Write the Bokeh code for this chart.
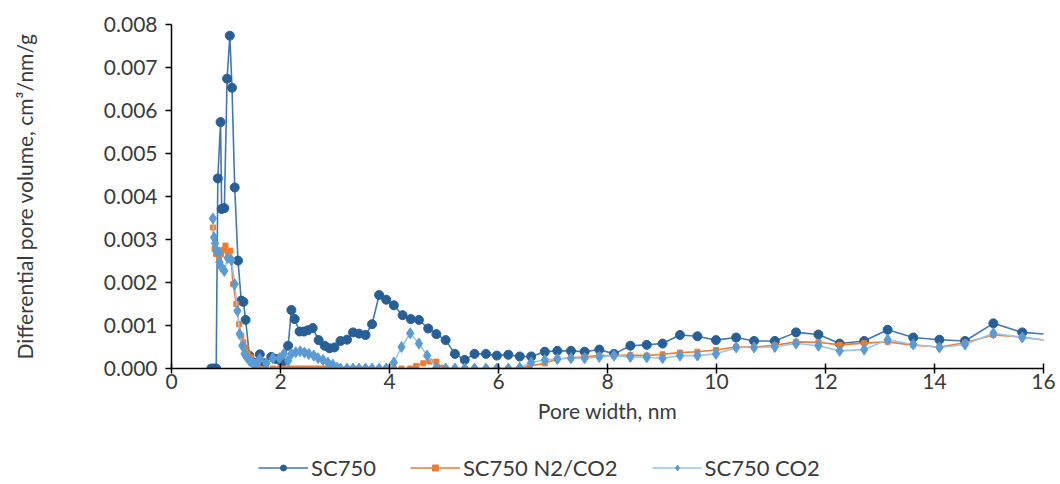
from bokeh.plotting import figure
from bokeh.layouts import column
from bokeh.models import Legend, LegendItem, Range1d, SingleIntervalTicker, NumeralTickFormatter
from bokeh.embed import file_html
from bokeh.resources import INLINE

# ---- data (pore width nm, differential pore volume cm3/nm/g) ----
sc750_x = [0.73, 0.77, 0.82, 0.85, 0.90, 0.92, 0.97, 1.02, 1.07, 1.11, 1.16, 1.22, 1.28, 1.32, 1.36,
           1.43, 1.49, 1.55, 1.62, 1.70, 1.83, 1.92, 2.03, 2.14, 2.20, 2.26, 2.35, 2.43, 2.50, 2.59,
           2.70, 2.81, 2.90, 2.99, 3.10, 3.22, 3.33, 3.44, 3.56, 3.68, 3.81, 3.94, 4.08, 4.24, 4.39,
           4.54, 4.71, 4.86, 5.03, 5.20, 5.38, 5.56, 5.77, 5.97, 6.18, 6.39, 6.60, 6.85, 7.08, 7.33,
           7.58, 7.85, 8.12, 8.42, 8.72, 9.01, 9.33, 9.65, 9.99, 10.36, 10.69, 11.07, 11.46, 11.87,
           12.26, 12.71, 13.14, 13.61, 14.09, 14.56, 15.08, 15.61, 16.15]
sc750_y = [0, 0, 0, 4.42, 5.73, 3.71, 3.73, 6.74, 7.74, 6.53, 4.21, 2.51, 1.58, 1.55, 1.13,
           0.30, 0.15, 0.10, 0.33, 0.12, 0.27, 0.22, 0.14, 0.53, 1.36, 1.15, 0.86, 0.86, 0.89, 0.94,
           0.66, 0.53, 0.47, 0.49, 0.64, 0.67, 0.84, 0.81, 0.78, 1.03, 1.71, 1.60, 1.47, 1.24, 1.15,
           1.13, 0.93, 0.80, 0.66, 0.34, 0.20, 0.34, 0.34, 0.30, 0.32, 0.28, 0.28, 0.39, 0.41, 0.41,
           0.39, 0.44, 0.34, 0.53, 0.55, 0.58, 0.78, 0.75, 0.66, 0.72, 0.64, 0.64, 0.84, 0.79,
           0.58, 0.64, 0.90, 0.72, 0.67, 0.64, 1.05, 0.84, 0.79]

n2co2_x = [0.76, 0.79, 0.82, 0.87, 0.91, 0.95, 0.99, 1.03, 1.08, 1.13, 1.19, 1.24, 1.28, 1.32, 1.36,
           1.40, 1.46, 1.52, 1.57, 1.62, 1.74, 1.86, 1.98, 2.06, 2.14, 2.20, 2.28, 2.36, 2.44, 2.52,
           2.61, 2.69, 2.78, 2.87, 2.96, 3.04, 3.10, 3.22, 3.33, 3.44, 3.56, 3.68, 3.81, 3.94, 4.08,
           4.22, 4.38, 4.49, 4.62, 4.74, 4.86, 4.95, 5.03, 5.20, 5.38, 5.56, 5.77, 5.97, 6.18, 6.39,
           6.57, 6.85, 7.08, 7.33, 7.58, 7.85, 8.12, 8.42, 8.72, 9.01, 9.33, 9.65, 9.99, 10.36, 10.69,
           11.07, 11.46, 11.87, 12.26, 12.71, 13.14, 13.61, 14.09, 14.56, 15.08, 15.61, 16.15]
n2co2_y = [3.28, 2.78, 2.66, 2.55, 2.66, 2.76, 2.86, 2.72, 2.74, 1.96, 1.50, 1.03, 0.76, 0.61, 0.49,
           0.34, 0.26, 0.15, 0.02, 0, 0, 0, 0, 0, 0, 0, 0, 0, 0, 0,
           0, 0, 0, 0, 0, 0, 0, 0, 0, 0, 0, 0, 0, 0, 0,
           0, 0, 0.06, 0.12, 0.16, 0.16, 0.02, 0, 0, 0, 0, 0, 0, 0, 0,
           0.06, 0.12, 0.22, 0.25, 0.27, 0.30, 0.30, 0.31, 0.30, 0.33, 0.37, 0.39, 0.43, 0.50, 0.50,
           0.54, 0.62, 0.61, 0.55, 0.59, 0.62, 0.54, 0.50, 0.60, 0.78, 0.73, 0.64]

co2_x = [0.76, 0.78, 0.80, 0.82, 0.87, 0.88, 0.92, 0.97, 1.03, 1.10, 1.16, 1.21, 1.25, 1.30, 1.34,
         1.38, 1.43, 1.49, 1.55, 1.62, 1.74, 1.86, 1.98, 2.06, 2.14, 2.20, 2.28, 2.36, 2.44, 2.52,
         2.61, 2.69, 2.78, 2.87, 2.96, 3.04, 3.10, 3.22, 3.33, 3.44, 3.56, 3.68, 3.81, 3.94, 4.08,
         4.22, 4.38, 4.54, 4.69, 4.86, 5.03, 5.20, 5.38, 5.56, 5.77, 5.97, 6.18, 6.39, 6.60, 6.85,
         7.08, 7.33, 7.58, 7.85, 8.12, 8.42, 8.72, 9.01, 9.33, 9.65, 9.99, 10.36, 10.69, 11.07, 11.46,
         11.87, 12.26, 12.71, 13.14, 13.61, 14.09, 14.56, 15.08, 15.61, 16.15]
co2_y = [3.49, 3.05, 2.91, 2.74, 2.70, 2.47, 2.35, 2.27, 2.57, 2.52, 1.96, 1.34, 0.80, 0.53, 0.34,
         0.26, 0.18, 0.12, 0.10, 0.22, 0.12, 0.24, 0.24, 0.34, 0.18, 0.34, 0.38, 0.40, 0.37, 0.34,
         0.30, 0.24, 0.20, 0.14, 0.09, 0.02, 0, 0, 0, 0, 0, 0, 0, 0, 0.14,
         0.50, 0.82, 0.58, 0.30, 0.02, 0, 0, 0, 0, 0, 0, 0, 0.02, 0.14, 0.20,
         0.22, 0.24, 0.24, 0.27, 0.30, 0.27, 0.26, 0.24, 0.30, 0.30, 0.34, 0.49, 0.49, 0.50, 0.58,
         0.53, 0.41, 0.44, 0.67, 0.56, 0.49, 0.56, 0.82, 0.72, 0.64]

series_names = ["SC750", "SC750 N2/CO2", "SC750 CO2"]
scale = 0.001  # values above are read in units of 1e-3

FONT = "Lato"
TXT = "#3a3a3a"

# series styles
STY = [
    dict(line_color="#4477ad", marker="circle", size=9, mcolor="#275f96"),
    dict(line_color="#ED7D31", marker="square", size=5, mcolor="#ED7D31"),
    dict(line_color="#9DC3E6", marker="diamond", size=11, mcolor="#5B9BD5"),
]

W = 171 + 872 + 14
p = figure(frame_width=872, frame_height=344, output_backend="svg", toolbar_location=None,
           x_range=Range1d(0, 16), y_range=Range1d(0, 0.008),
           min_border_left=171, min_border_right=14, min_border_top=24, min_border_bottom=84)
p.outline_line_color = None
p.grid.visible = False

# axes
p.xaxis.ticker = SingleIntervalTicker(interval=2)
p.yaxis.ticker = SingleIntervalTicker(interval=0.001)
p.yaxis.formatter = NumeralTickFormatter(format="0.000")
for ax in (p.xaxis[0], p.yaxis[0]):
    ax.axis_line_color = "black"
    ax.axis_line_width = 1.5
    ax.major_tick_line_color = "black"
    ax.major_tick_line_width = 1.5
    ax.minor_tick_line_color = None
    ax.major_label_text_font = FONT
    ax.major_label_text_font_size = "21px"
    ax.major_label_text_color = TXT
    ax.axis_label_text_font = FONT
    ax.axis_label_text_font_size = "21px"
    ax.axis_label_text_font_style = "normal"
    ax.axis_label_text_color = TXT
p.xaxis.major_tick_in = 5
p.xaxis.major_tick_out = 5
p.yaxis.major_tick_in = 0
p.yaxis.major_tick_out = 6
p.xaxis.major_label_standoff = 0
p.yaxis.major_label_standoff = 8
p.xaxis.axis_label = "Pore width, nm"
p.yaxis.axis_label = "Differential pore volume, cm\u00b3/nm/g"
p.xaxis.axis_label_standoff = 6
p.yaxis.axis_label_standoff = 64

def scaled(v):
    return [a * scale for a in v]

datasets = [(sc750_x, sc750_y), (n2co2_x, n2co2_y), (co2_x, co2_y)]
for (xs, ys), st in zip(datasets, STY):
    p.line(xs, scaled(ys), line_color=st["line_color"], line_width=1.6)
    p.scatter(xs, scaled(ys), marker=st["marker"], size=st["size"],
              fill_color=st["mcolor"], line_color=st["mcolor"])

# legend strip underneath (separate figure so the legend is not clipped);
# its y-range is chosen so the series themselves stay out of view there
lg = figure(width=W, height=32, output_backend="svg", toolbar_location=None,
            x_range=Range1d(0, 16), y_range=Range1d(1.0, 2.0),
            x_axis_location=None, y_axis_location=None,
            min_border_left=0, min_border_right=0, min_border_top=0, min_border_bottom=0)
lg.outline_line_color = None
lg.grid.visible = False
items = []
for name, (xs, ys), st in zip(series_names, datasets, STY):
    r1 = lg.line(xs, scaled(ys), line_color=st["line_color"], line_width=1.6)
    r2 = lg.scatter(xs, scaled(ys), marker=st["marker"], size=st["size"] - 2,
                    fill_color=st["mcolor"], line_color=st["mcolor"])
    items.append(LegendItem(label=name, renderers=[r1, r2]))
legend = Legend(items=items, orientation="horizontal", location=(87, 3),
                label_text_font=FONT, label_text_font_size="22px", label_text_color=TXT,
                glyph_width=50, glyph_height=15, label_height=26, spacing=34, padding=0, margin=0,
                label_standoff=3, border_line_color=None, background_fill_alpha=0)
lg.add_layout(legend, "center")

layout = column(p, lg, spacing=0)
open("out.html", "w").write(file_html(layout, INLINE))
